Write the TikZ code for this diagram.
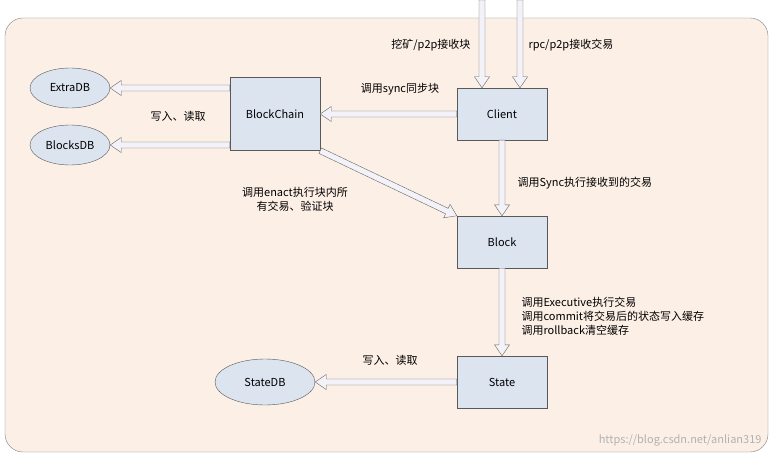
\documentclass[tikz,border=0pt]{standalone}
\usepackage{fontspec}
\setmainfont{Noto Sans CJK SC}
\usetikzlibrary{calc,shapes.geometric}
\definecolor{bgpeach}{HTML}{FCEFE6}
\definecolor{boxblue}{HTML}{DCE4F0}
\definecolor{arrowfill}{HTML}{F2F2F8}
\newcommand\fatarrow[2]{%
  \draw[draw=gray!80!black, fill=arrowfill] let \p1=(#1), \p2=(#2), \n1={atan2(\y2-\y1,\x2-\x1)}, \n2={veclen(\x2-\x1,\y2-\y1)} in
    [shift={(\p1)}, rotate=\n1] (0,-3pt) -- (\n2-11pt,-3pt) -- (\n2-11pt,-7.5pt) -- (\n2,0) -- (\n2-11pt,7.5pt) -- (\n2-11pt,3pt) -- (0,3pt) -- cycle;}
\begin{document}
\begin{tikzpicture}[x=1pt,y=-1pt,font=\fontsize{11}{14}\selectfont,
		box/.style={draw=gray!70!black,fill=boxblue,minimum width=90pt,minimum height=52pt},
		db/.style={ellipse,draw=gray!70!black,fill=boxblue,minimum width=80pt,minimum height=40pt}]
		\useasboundingbox (0,0) rectangle (778,457);
		\draw[gray,fill=bgpeach,rounded corners=18pt] (5,18) rectangle (768,452);
		% 节点
		\node[box] (client) at (502,114) {Client};
		\node[box,minimum height=73pt] (chain) at (275,114) {BlockChain};
		\node[box] (block) at (502,242) {Block};
		\node[box] (state) at (502,382) {State};
		\node[db] (extra) at (70,88) {ExtraDB};
		\node[db] (blocks) at (70,145) {BlocksDB};
		\node[db,minimum width=100pt,minimum height=46pt] (statedb) at (265,382) {StateDB};
		\coordinate (in1) at (482,0);
		\coordinate (in2) at (520,0);
		% 箭头
		\fatarrow{in1}{client.north -| in1}
		\fatarrow{in2}{client.north -| in2}
		\fatarrow{client.west}{chain.east |- client.west}
		\fatarrow{chain.west |- extra.east}{extra.east}
		\fatarrow{chain.west |- blocks.east}{blocks.east}
		\fatarrow{chain.south east}{block.north west}
		\fatarrow{client.south}{block.north}
		\fatarrow{block.south}{state.north}
		\fatarrow{state.west}{statedb.east}
		% 文字
		\node[anchor=east] (l1) at (474,45) {挖矿/p2p接收块};
		\node[anchor=west] (l2) at (525,45) {rpc/p2p接收交易};
		\node (l3) at (400,89) {调用sync同步块};
		\node (l4) at (178,116) {写入、读取};
		\node[align=center] (l5) at (295,199) {调用enact执行块内所\\有交易、验证块};
		\node[anchor=west] (l6) at (514,183) {调用Sync执行接收到的交易};
		\node[anchor=west,align=left] (l7) at (518,316) {调用Executive执行交易\\调用commit将交易后的状态写入缓存\\调用rollback清空缓存};
		\node (l8) at (390,360) {写入、读取};
		\node[gray!60,anchor=east] (wm) at (765,440) {https://blog.csdn.net/anlian319};
\end{tikzpicture}
\end{document}
